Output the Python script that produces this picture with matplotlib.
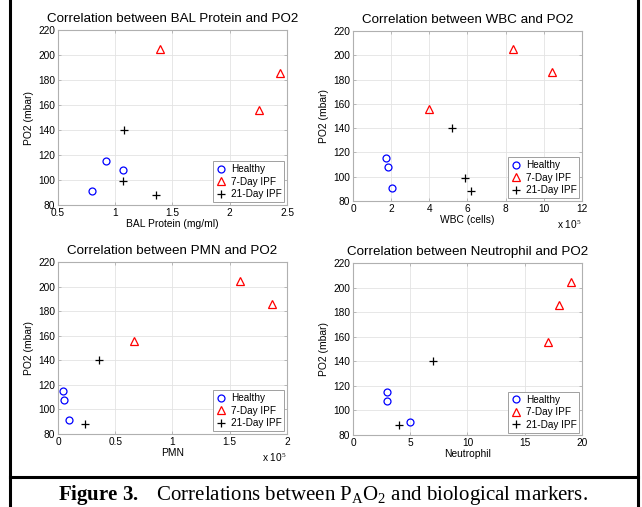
import matplotlib.pyplot as plt
from matplotlib.lines import Line2D

plt.rcParams['font.family'] = ['Liberation Sans', 'DejaVu Sans']
plt.rcParams['mathtext.fontset'] = 'custom'
plt.rcParams['mathtext.rm'] = 'Liberation Serif'
plt.rcParams['mathtext.it'] = 'Liberation Serif:italic'
plt.rcParams['mathtext.bf'] = 'Liberation Serif:bold'

# PO2 (mbar) per group
po2_healthy = [91, 115, 108]
po2_7day = [205, 156, 186]
po2_21day = [140, 99, 88]

# BAL protein (mg/ml)
bal_healthy = [0.80, 0.92, 1.07]
bal_7day = [1.39, 2.26, 2.44]
bal_21day = [1.08, 1.07, 1.36]

# WBC (cells, x 10^5)
wbc_healthy = [2.05, 1.73, 1.84]
wbc_7day = [8.41, 3.97, 10.43]
wbc_21day = [5.21, 5.86, 6.16]

# PMN (x 10^5) - only two 21-day values in the figure
pmn_healthy = [0.096, 0.044, 0.050]
pmn_7day = [1.59, 0.666, 1.872]
pmn_21day = [0.356, 0.239]
pmn_po2_21day = [140, 88]

# Neutrophil
neu_healthy = [5, 3, 3]
neu_7day = [19, 17, 18]
neu_21day = [7, 4]
neu_po2_21day = [140, 88]

GRID = '#e3e3e3'
SPINE = '#b0b0b0'


def panel(rect, title, xlabel, xlim, xticks, xticklabels, healthy, d7, d21, po2_21, exp=False):
    ax = fig.add_axes(rect)
    ax.plot(healthy, po2_healthy, 'o', mfc='none', mec='blue', ms=5, mew=0.9, label='Healthy')
    ax.plot(d7, po2_7day, '^', mfc='none', mec='red', ms=5.5, mew=0.9, label='7-Day IPF')
    ax.plot(d21, po2_21, '+', color='black', ms=6, mew=0.9, label='21-Day IPF')
    ax.set_xlim(xlim)
    ax.set_ylim(80, 220)
    ax.set_xticks(xticks)
    ax.set_xticklabels(xticklabels)
    ax.set_yticks(range(80, 221, 20))
    ax.grid(True, color=GRID, lw=0.6)
    ax.set_axisbelow(True)
    for s in ax.spines.values():
        s.set_color(SPINE)
        s.set_linewidth(0.8)
    ax.tick_params(direction='in', length=2.5, width=0.6, color=SPINE,
                   labelsize=7.3, pad=2, top=True, right=True)
    ax.set_title(title, fontsize=9.6, pad=6)
    ax.set_xlabel(xlabel, fontsize=7.4, labelpad=1)
    ax.set_ylabel('PO2 (mbar)', fontsize=7.4, labelpad=3)
    leg = ax.legend(loc='lower right', fontsize=7.2, handlelength=1.0, handletextpad=0.5,
                    labelspacing=0.25, borderpad=0.3, borderaxespad=0.25,
                    fancybox=False, framealpha=1)
    leg.get_frame().set_edgecolor('#a0a0a0')
    leg.get_frame().set_linewidth(0.7)
    if exp:
        ax.annotate('x 10$^5$', xy=(1.0, 0), xycoords='axes fraction',
                    xytext=(0, -17), textcoords='offset points', fontsize=7.3,
                    ha='right', va='center', family='Liberation Sans')
    return ax


fig = plt.figure(figsize=(6.42, 5.07), dpi=100)

panel([0.0903, 0.5957, 0.3567, 0.345], 'Correlation between BAL Protein and PO2',
      'BAL Protein (mg/ml)', (0.5, 2.5), [0.5, 1, 1.5, 2, 2.5],
      ['0.5', '1', '1.5', '2', '2.5'], bal_healthy, bal_7day, bal_21day, po2_21day)
panel([0.5498, 0.6036, 0.3567, 0.3353], 'Correlation between WBC and PO2',
      'WBC (cells)', (0, 12), range(0, 13, 2),
      [str(v) for v in range(0, 13, 2)], wbc_healthy, wbc_7day, wbc_21day, po2_21day, exp=True)
panel([0.0903, 0.144, 0.3567, 0.339], 'Correlation between PMN and PO2',
      'PMN', (0, 2), [0, 0.5, 1, 1.5, 2],
      ['0', '0.5', '1', '1.5', '2'], pmn_healthy, pmn_7day, pmn_21day, pmn_po2_21day, exp=True)
panel([0.5498, 0.142, 0.3567, 0.339], 'Correlation between Neutrophil and PO2',
      'Neutrophil', (0, 20), range(0, 21, 5),
      [str(v) for v in range(0, 21, 5)], neu_healthy, neu_7day, neu_21day, neu_po2_21day)

# figure frame lines
W, H = 642, 507
fig.add_artist(Line2D([10.5 / W, 10.5 / W], [0, 1], color='black', lw=2.2))
fig.add_artist(Line2D([637.5 / W, 637.5 / W], [0, 1], color='black', lw=2.2))
fig.add_artist(Line2D([10.5 / W, 637.5 / W], [1 - 477 / H, 1 - 477 / H], color='black', lw=2.2))

fig.text(58 / W, 1 - 500 / H,
         r'$\mathbf{Figure\ 3.}$   Correlations between P$_\mathrm{A}$O$_2$ and biological markers.',
         fontsize=15, family='Liberation Serif', ha='left', va='baseline')

plt.savefig('out.png', dpi=100)
